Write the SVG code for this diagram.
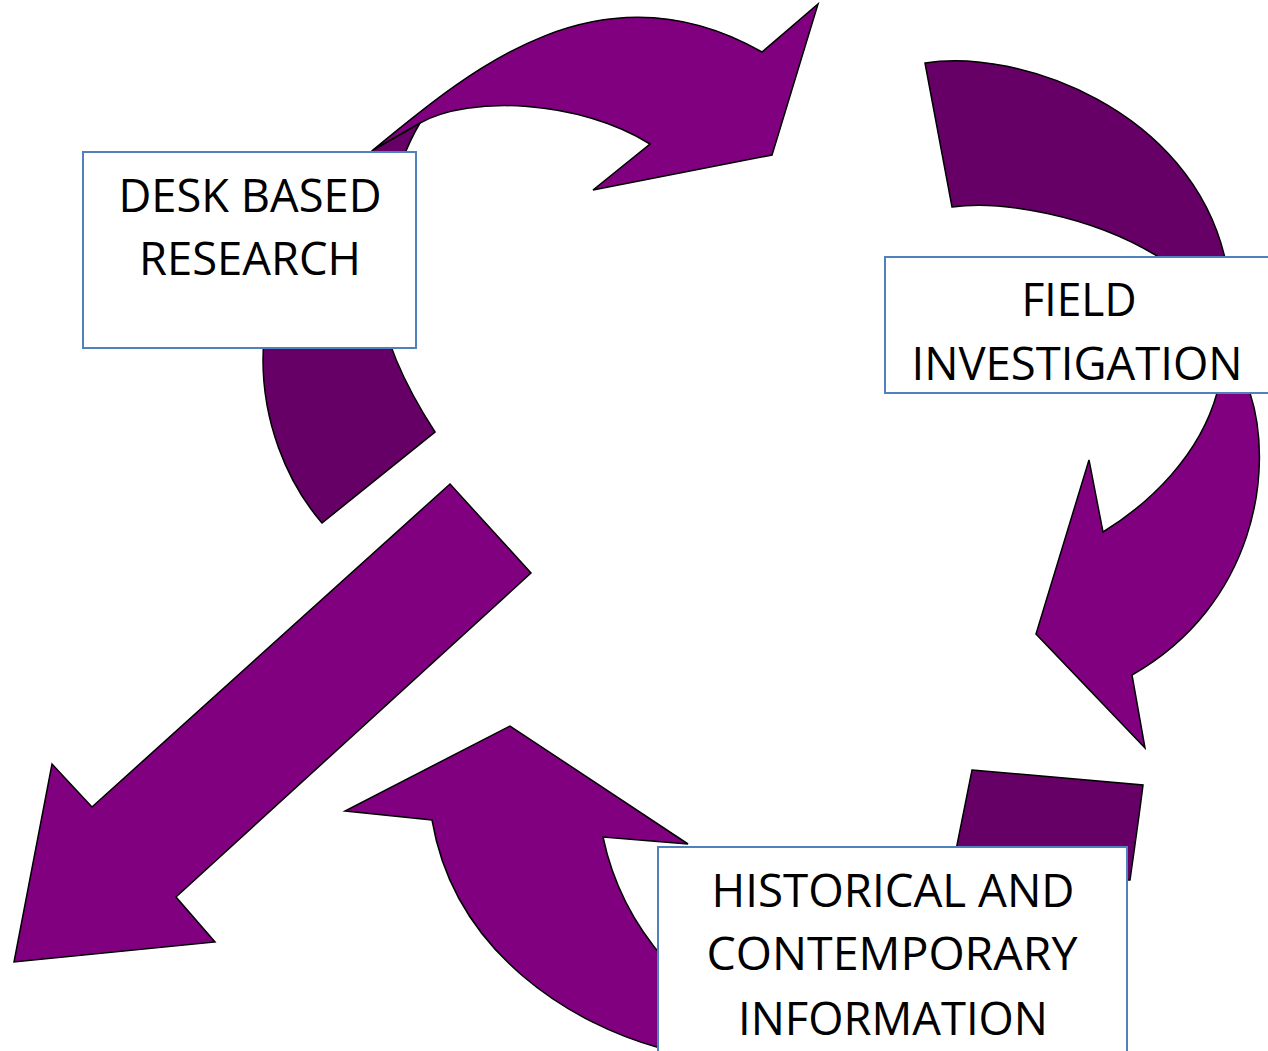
<svg xmlns="http://www.w3.org/2000/svg" width="1268" height="1051" viewBox="0 0 1268 1051">
  <style>
    .bright { fill: #800080; stroke: #000; stroke-width: 1.5; stroke-linejoin: miter; }
    .dark { fill: #660066; stroke: #000; stroke-width: 1.5; stroke-linejoin: miter; }
    .box { fill: #fff; stroke: #4F81BD; stroke-width: 2; }
    .label { font-family: "Open Sans", "Liberation Sans", sans-serif; font-size: 46px; fill: #000; text-anchor: middle; }
  </style>
  <rect width="1268" height="1051" fill="#fff"/>

  <g id="connectors">
    <!-- left underside band feeding the top curved arrow -->
    <path class="dark" d="M373,150 L420,123 C395,165 375,240 380,300 C383,330 395,370 435,432 L322,523 C285,480 263,420 263,360 C263,270 310,200 373,150 Z"/>
    <!-- top curved arrow -->
    <path class="bright" d="M373,150 C470,70 600,-40 762,52 L818,4 L772,155 L593,190 L650,144 C580,100 470,95 420,123 Z"/>

    <!-- right underside band -->
    <path class="dark" d="M925,63 C1020,48 1190,110 1225,258 L1232,320 L1160,320 L1157,256 C1090,215 1000,200 952,207 Z"/>
    <!-- right curved arrow -->
    <path class="bright" d="M1214,330 L1248,330 L1250,393 C1275,470 1255,605 1132,675 L1145,748 L1036,634 L1089,460 L1103,532 C1150,503 1200,455 1217,393 Z"/>

    <!-- bottom underside band -->
    <path class="dark" d="M972,770 L1143,785 C1140,810 1137,830 1130,880 L950,880 C960,830 966,800 972,770 Z"/>
    <!-- bottom curved arrow -->
    <path class="bright" d="M700,1060 L660,1048 C575,1025 455,955 432,820 L345,811 L510,726 L688,844 L603,837 C612,880 630,920 665,960 L700,960 Z"/>

    <!-- straight outgoing arrow -->
    <path class="bright" d="M450,484 L531,573 L176,897 L215,942 L14,962 L52,764 L92,807 Z"/>
  </g>

  <g id="node-desk">
    <rect class="box" x="83" y="152" width="333" height="196"/>
    <text class="label" x="250" y="212" textLength="263" lengthAdjust="spacingAndGlyphs">DESK BASED</text>
    <text class="label" x="250" y="275" textLength="222" lengthAdjust="spacingAndGlyphs">RESEARCH</text>
  </g>

  <g id="node-field">
    <rect class="box" x="885" y="257" width="390" height="136"/>
    <text class="label" x="1079" y="316" textLength="115" lengthAdjust="spacingAndGlyphs">FIELD</text>
    <text class="label" x="1077" y="380" textLength="331" lengthAdjust="spacingAndGlyphs">INVESTIGATION</text>
  </g>

  <g id="node-historical">
    <rect class="box" x="658" y="847" width="469" height="220"/>
    <text class="label" x="893" y="907" textLength="363" lengthAdjust="spacingAndGlyphs">HISTORICAL AND</text>
    <text class="label" x="892" y="970" textLength="371" lengthAdjust="spacingAndGlyphs">CONTEMPORARY</text>
    <text class="label" x="893" y="1035" textLength="310" lengthAdjust="spacingAndGlyphs">INFORMATION</text>
  </g>
</svg>
